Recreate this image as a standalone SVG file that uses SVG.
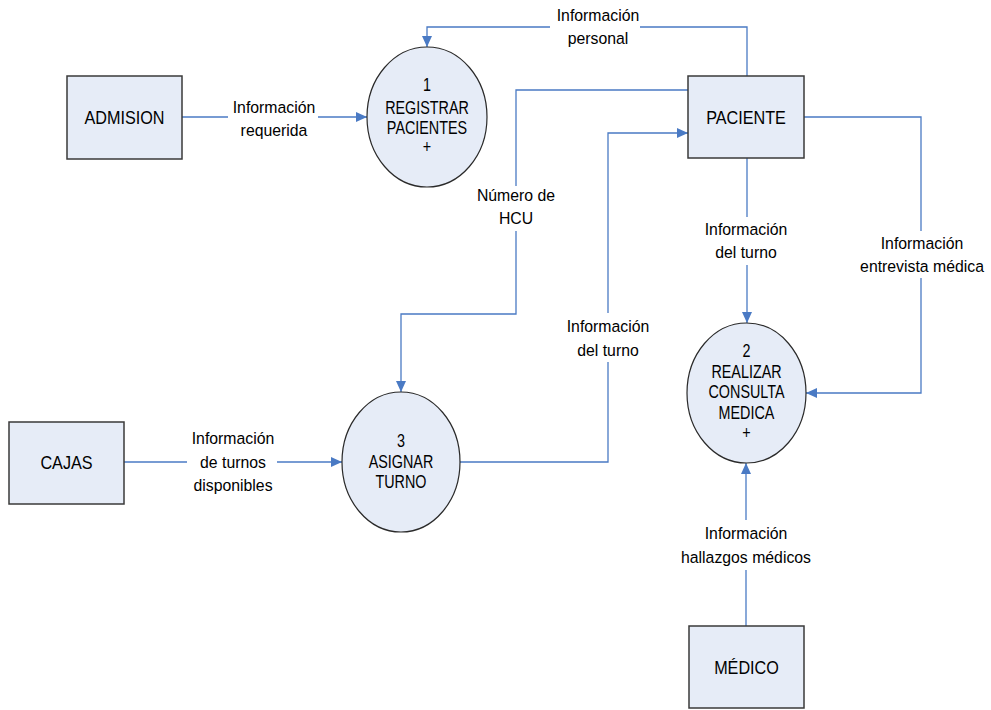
<svg xmlns="http://www.w3.org/2000/svg" width="991" height="710" viewBox="0 0 991 710">
<style>
.ent{fill:#E6ECF7;stroke:#3A3A3A;stroke-width:1.5}
.proc{fill:#E6ECF7;stroke:#2A2A2A;stroke-width:1.2}
.flow{fill:none;stroke:#4A7AC4;stroke-width:1.3}
.bg{fill:#FFFFFF;stroke:none}
text{font-family:"Liberation Sans",Arial,sans-serif;fill:#000;text-anchor:middle}
.lbl{font-size:17px}
.nt{font-size:18px}
.pt{font-size:17.5px}
</style>
<defs>
<marker id="arr" markerUnits="userSpaceOnUse" markerWidth="12" markerHeight="10" refX="11" refY="5" orient="auto">
<path d="M0,0 L11,5 L0,10 Z" fill="#4A7AC4"/>
</marker>
</defs>
<rect width="991" height="710" fill="#FFFFFF"/>

<g id="connectors">
<path class="flow" d="M182,117 H367" marker-end="url(#arr)"/>
<path class="flow" d="M747,76 V27 H427 V47" marker-end="url(#arr)"/>
<path class="flow" d="M688,90 H516 V314 H401 V392" marker-end="url(#arr)"/>
<path class="flow" d="M459,462 H608 V133 H688" marker-end="url(#arr)"/>
<path class="flow" d="M747,158 V323" marker-end="url(#arr)"/>
<path class="flow" d="M804,117 H921 V393 H806" marker-end="url(#arr)"/>
<path class="flow" d="M746,626 V463" marker-end="url(#arr)"/>
<path class="flow" d="M124,462 H342" marker-end="url(#arr)"/>
</g>

<g id="labels">
<g id="lbl-requerida">
<rect class="bg" x="228" y="94" width="90" height="46"/>
<g transform="translate(274,0) scale(0.93,1)">
<text class="lbl" x="0" y="113">Información</text>
<text class="lbl" x="0" y="136">requerida</text>
</g>
</g>
<g id="lbl-personal">
<rect class="bg" x="550" y="3" width="90" height="46"/>
<g transform="translate(598,0) scale(0.93,1)">
<text class="lbl" x="0" y="21">Información</text>
<text class="lbl" x="0" y="44">personal</text>
</g>
</g>
<g id="lbl-hcu">
<rect class="bg" x="472" y="186" width="88" height="45"/>
<g transform="translate(516,0) scale(0.93,1)">
<text class="lbl" x="0" y="201">Número de</text>
<text class="lbl" x="0" y="224">HCU</text>
</g>
</g>
<g id="lbl-turno-mid">
<rect class="bg" x="562" y="313" width="92" height="49"/>
<g transform="translate(608,0) scale(0.93,1)">
<text class="lbl" x="0" y="332">Información</text>
<text class="lbl" x="0" y="356">del turno</text>
</g>
</g>
<g id="lbl-turno-right">
<rect class="bg" x="700" y="217" width="92" height="48"/>
<g transform="translate(746,0) scale(0.93,1)">
<text class="lbl" x="0" y="235">Información</text>
<text class="lbl" x="0" y="258">del turno</text>
</g>
</g>
<g id="lbl-entrevista">
<rect class="bg" x="856" y="231" width="132" height="47"/>
<g transform="translate(922,0) scale(0.93,1)">
<text class="lbl" x="0" y="249">Información</text>
<text class="lbl" x="0" y="272">entrevista médica</text>
</g>
</g>
<g id="lbl-turnos-disp">
<rect class="bg" x="187" y="426" width="90" height="70"/>
<g transform="translate(233,0) scale(0.93,1)">
<text class="lbl" x="0" y="444">Información</text>
<text class="lbl" x="0" y="468">de turnos</text>
<text class="lbl" x="0" y="491">disponibles</text>
</g>
</g>
<g id="lbl-hallazgos">
<rect class="bg" x="676" y="520" width="140" height="50"/>
<g transform="translate(746,0) scale(0.93,1)">
<text class="lbl" x="0" y="539">Información</text>
<text class="lbl" x="0" y="563">hallazgos médicos</text>
</g>
</g>
</g>

<g id="admision">
<rect class="ent" x="67" y="76" width="115" height="83"/>
<text class="nt" x="0" y="124" transform="translate(124.5,0) scale(0.9,1)">ADMISION</text>
</g>
<g id="paciente">
<rect class="ent" x="688" y="76" width="116" height="82"/>
<text class="nt" x="0" y="124" transform="translate(746,0) scale(0.9,1)">PACIENTE</text>
</g>
<g id="cajas">
<rect class="ent" x="9" y="422" width="115" height="82"/>
<text class="nt" x="0" y="469" transform="translate(66.5,0) scale(0.9,1)">CAJAS</text>
</g>
<g id="medico">
<rect class="ent" x="689" y="626" width="115" height="82"/>
<text class="nt" x="0" y="674" transform="translate(746.5,0) scale(0.9,1)">MÉDICO</text>
</g>

<g id="p1">
<ellipse class="proc" cx="427" cy="117" rx="60" ry="70"/>
<g transform="translate(427,0) scale(0.82,1)">
<text class="pt" x="0" y="91">1</text>
<text class="pt" x="0" y="114">REGISTRAR</text>
<text class="pt" x="0" y="134">PACIENTES</text>
<text class="pt" x="0" y="153">+</text>
</g>
</g>
<g id="p3">
<ellipse class="proc" cx="401" cy="462" rx="59" ry="70"/>
<g transform="translate(401,0) scale(0.82,1)">
<text class="pt" x="0" y="447">3</text>
<text class="pt" x="0" y="468">ASIGNAR</text>
<text class="pt" x="0" y="488">TURNO</text>
</g>
</g>
<g id="p2">
<ellipse class="proc" cx="746.5" cy="393" rx="59.5" ry="70"/>
<g transform="translate(746.5,0) scale(0.82,1)">
<text class="pt" x="0" y="357">2</text>
<text class="pt" x="0" y="378">REALIZAR</text>
<text class="pt" x="0" y="398">CONSULTA</text>
<text class="pt" x="0" y="419">MEDICA</text>
<text class="pt" x="0" y="439">+</text>
</g>
</g>
</svg>
